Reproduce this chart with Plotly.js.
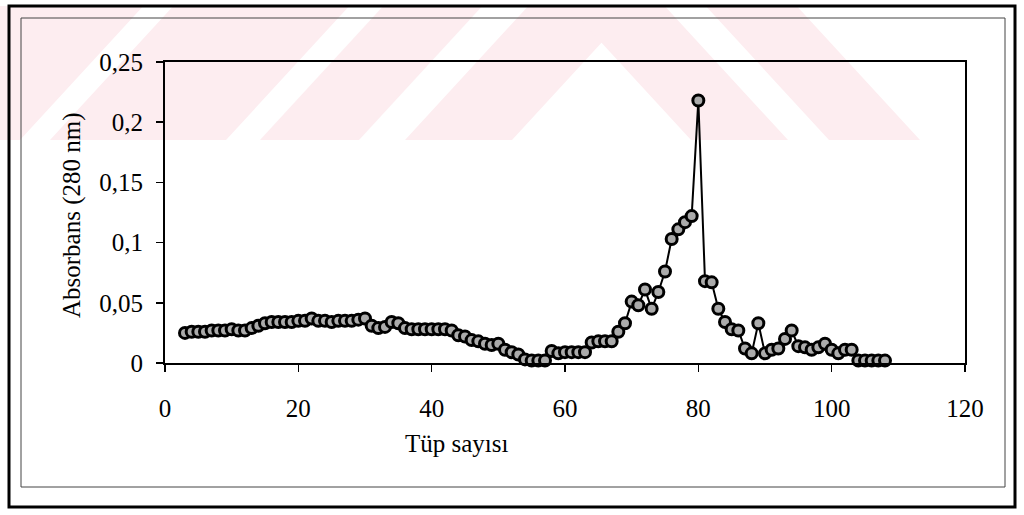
<!DOCTYPE html>
<html>
<head>
<meta charset="utf-8">
<script src="https://cdn.plot.ly/plotly-3.0.1.min.js"></script>
<style>
html,body{margin:0;padding:0;background:#fff;}
#chart{width:1024px;height:515px;}
</style>
</head>
<body>
<div id="chart"></div>
<script>
// ---- data ----
var tubes = [3,4,5,6,7,8,9,10,11,12,13,14,15,16,17,18,19,20,21,22,23,24,25,26,27,28,29,30,
  31,32,33,34,35,36,37,38,39,40,41,42,43,44,45,46,47,48,49,50,51,52,53,54,55,56,57,58,59,60,
  61,62,63,64,65,66,67,68,69,70,71,72,73,74,75,76,77,78,79,80,81,82,83,84,85,86,87,88,89,90,
  91,92,93,94,95,96,97,98,99,100,101,102,103,104,105,106,107,108];
var absorbance = [0.025,0.026,0.026,0.026,0.027,0.027,0.027,0.028,0.027,0.027,0.029,0.031,0.033,0.034,
  0.034,0.034,0.034,0.035,0.035,0.037,0.035,0.035,0.034,0.035,0.035,0.035,0.036,0.037,
  0.031,0.029,0.030,0.034,0.033,0.029,0.028,0.028,0.028,0.028,0.028,0.028,0.027,0.023,
  0.022,0.019,0.018,0.016,0.015,0.016,0.011,0.009,0.007,0.003,0.002,0.002,0.002,0.010,
  0.008,0.009,0.009,0.009,0.009,0.017,0.018,0.018,0.018,0.026,0.033,0.051,0.048,0.061,
  0.045,0.059,0.076,0.103,0.111,0.117,0.122,0.218,0.068,0.067,0.045,0.034,0.028,0.027,
  0.012,0.008,0.033,0.008,0.011,0.012,0.020,0.027,0.014,0.013,0.011,0.013,0.016,0.011,
  0.008,0.011,0.011,0.002,0.002,0.002,0.002,0.002];
var xTicks = [0,20,40,60,80,100,120];
var yTicks = [0,0.05,0.1,0.15,0.2,0.25];
var xTitle = 'Tüp sayısı';
var yTitle = 'Absorbans (280 nm)';

// ---- layout helpers (pixel -> paper) ----
var L = 165, R = 965, T = 62, B = 363, W = 1024, H = 515;
function px(x){ return (x - L) / (R - L); }
function py(y){ return (B - y) / (B - T); }
function poly(pts){
  return pts.map(function(p,i){ return (i ? 'L' : 'M') + px(p[0]) + ',' + py(p[1]); }).join(' ') + ' Z';
}
var pink = '#fdedf0';
var yb = 140, yt = 6, k = 0.92, sh = k * (yb - yt);
function slashBand(a, b){ return poly([[a,yb],[b,yb],[b+sh,yt],[a+sh,yt]]); }
function backBand(a, b){ return poly([[a,yb],[b,yb],[b-sh,yt],[a-sh,yt]]); }

var shapes = [];
[[-130,20],[50,226],[260,359],[405,512]].forEach(function(bd){
  shapes.push({type:'path', xref:'paper', yref:'paper', path:slashBand(bd[0],bd[1]),
    fillcolor:pink, line:{width:0}, layer:'below'});
});
[[691,788],[829,920]].forEach(function(bd){
  shapes.push({type:'path', xref:'paper', yref:'paper', path:backBand(bd[0],bd[1]),
    fillcolor:pink, line:{width:0}, layer:'below'});
});
// outer and inner frames
shapes.push({type:'rect', xref:'paper', yref:'paper', x0:px(9), x1:px(1015), y0:py(507), y1:py(6),
  line:{color:'#000', width:3}, fillcolor:'rgba(0,0,0,0)'});
shapes.push({type:'rect', xref:'paper', yref:'paper', x0:px(21), x1:px(1005), y0:py(487), y1:py(18),
  line:{color:'#444', width:1}, fillcolor:'rgba(0,0,0,0)'});

var font = 'Liberation Serif, Times New Roman, serif';

var trace = {
  x: tubes, y: absorbance, type:'scatter', mode:'lines+markers',
  line:{color:'#000', width:2},
  marker:{size:11, color:'#ababab', line:{color:'#000', width:3}},
  cliponaxis:false, hoverinfo:'x+y'
};

var layout = {
  width:W, height:H,
  margin:{l:L, r:W-R, t:T, b:H-B, pad:0},
  paper_bgcolor:'#fff', plot_bgcolor:'rgba(0,0,0,0)',
  separators:',.',
  showlegend:false,
  font:{family:font, size:25, color:'#000'},
  xaxis:{range:[0,120], tickvals:xTicks, ticks:'outside', ticklen:7, tickwidth:1.5, tickcolor:'#000',
    showline:true, linecolor:'#000', linewidth:2, mirror:true, showgrid:false, zeroline:false,
    ticklabelstandoff:15, tickfont:{family:font, size:25, color:'#000'}},
  yaxis:{range:[0,0.25], tickvals:yTicks, ticks:'outside', ticklen:7, tickwidth:1.5, tickcolor:'#000',
    showline:true, linecolor:'#000', linewidth:2, mirror:true, showgrid:false, zeroline:false,
    ticklabelstandoff:8, tickfont:{family:font, size:25, color:'#000'}},
  shapes: shapes,
  annotations:[
    {text:xTitle, xref:'paper', yref:'paper', x:px(457), y:py(443), showarrow:false,
      xanchor:'center', yanchor:'middle', font:{family:font, size:25, color:'#000'}},
    {text:yTitle, xref:'paper', yref:'paper', x:px(72), y:py(215), showarrow:false, textangle:-90,
      xanchor:'center', yanchor:'middle', font:{family:font, size:25, color:'#000'}}
  ]
};

Plotly.newPlot('chart', [trace], layout, {displayModeBar:false, staticPlot:true});
</script>
</body>
</html>
